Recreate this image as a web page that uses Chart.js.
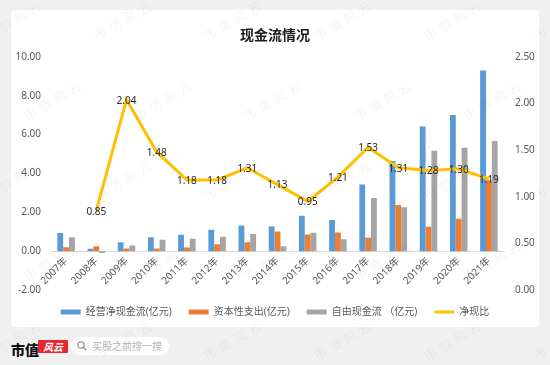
<!DOCTYPE html>
<html>
<head>
<meta charset="utf-8">
<script src="https://cdn.jsdelivr.net/npm/chart.js@4/dist/chart.umd.min.js"></script>
<style>
  html, body { margin: 0; padding: 0; }
  body {
    width: 550px; height: 365px; position: relative; overflow: hidden;
    background: #f0f0f0;
    font-family: "Noto Sans", "Noto Sans CJK SC", sans-serif;
  }
  #panel {
    position: absolute; left: 11px; top: 10px; width: 528px; height: 317px;
    background: #fff; border-radius: 4px;
  }
  #panel canvas { position: absolute; left: 0; top: 0; }
  .brand {
    position: absolute; left: 11px; top: 339px; line-height: 15px;
    font: 900 14px "Noto Sans CJK SC", sans-serif; color: #111;
  }
  .brand-red {
    position: absolute; left: 38px; top: 340px; width: 30px; height: 13px;
    background: #e8242c; color: #fff; font: italic 700 10px "Noto Sans CJK SC", sans-serif;
    line-height: 13px; text-align: center; border-radius: 1px;
  }
  .search {
    position: absolute; left: 71px; top: 337px; width: 98px; height: 18px;
    background: #fff; border-radius: 9px;
  }
  .search svg { position: absolute; left: 6px; top: 4px; }
  .search span {
    position: absolute; left: 21px; top: 2px;
    font: 10px "Noto Sans CJK SC", sans-serif; color: #b4b4b4; line-height: 14px;
  }
  #wm { position: absolute; left: 0; top: 0; width: 550px; height: 365px; pointer-events: none; }
  #wm span {
    position: absolute; font: 13px "Noto Sans CJK SC", sans-serif; color: rgba(0,0,0,0.045);
    transform: rotate(-30deg); letter-spacing: 4px; white-space: nowrap;
  }
</style>
</head>
<body>
<div id="panel"><canvas id="c" width="528" height="317"></canvas></div>
<div class="brand">市值</div>
<div class="brand-red">风云</div>
<div class="search">
  <svg width="10" height="10" viewBox="0 0 10 10"><circle cx="4" cy="4" r="3.2" fill="none" stroke="#999" stroke-width="1.3"/><line x1="6.4" y1="6.4" x2="9.3" y2="9.3" stroke="#999" stroke-width="1.4"/></svg>
  <span>买股之前搜一搜</span>
</div>
<div id="wm"></div>
<script>
const years = ['2007年','2008年','2009年','2010年','2011年','2012年','2013年','2014年','2015年','2016年','2017年','2018年','2019年','2020年','2021年'];
const operatingCF = [0.93, 0.12, 0.46, 0.71, 0.84, 1.10, 1.32, 1.27, 1.82, 1.60, 3.43, 4.64, 6.41, 7.00, 9.30];
const capex       = [0.20, 0.25, 0.14, 0.14, 0.19, 0.35, 0.46, 1.01, 0.86, 0.96, 0.69, 2.38, 1.25, 1.67, 3.65];
const freeCF      = [0.71, -0.10, 0.29, 0.59, 0.64, 0.74, 0.88, 0.25, 0.95, 0.61, 2.73, 2.26, 5.16, 5.32, 5.67];
const cashRatio   = [null, 0.85, 2.04, 1.48, 1.18, 1.18, 1.31, 1.13, 0.95, 1.21, 1.53, 1.31, 1.28, 1.30, 1.19];

const leftTicks = { min: -2, max: 10, step: 2 };
const rightTicks = { min: 0, max: 2.5, step: 0.5 };

const FONT = '"Noto Sans", "Noto Sans CJK SC", sans-serif';
const textGray = '#595959';

// faint site watermark
const wm = document.getElementById('wm');
for (let r = 0; r < 5; r++) {
  for (let c = 0; c < 6; c++) {
    const s = document.createElement('span');
    s.textContent = '市值风云';
    s.style.left = (c * 110 + (r % 2) * 40 - 20) + 'px';
    s.style.top = (r * 80 + 10) + 'px';
    wm.appendChild(s);
  }
}

const valueLabels = {
  id: 'valueLabels',
  afterDatasetsDraw(chart) {
    const meta = chart.getDatasetMeta(3);
    const ctx = chart.ctx;
    ctx.save();
    ctx.font = '10px ' + FONT;
    ctx.fillStyle = '#262626';
    ctx.textAlign = 'center';
    ctx.textBaseline = 'middle';
    meta.data.forEach((pt, i) => {
      const v = cashRatio[i];
      if (v == null) return;
      ctx.fillText(v.toFixed(2), pt.x, pt.y + 1);
    });
    ctx.restore();
  }
};

new Chart(document.getElementById('c'), {
  data: {
    labels: years,
    datasets: [
      { type: 'bar', label: '经营净现金流(亿元)', data: operatingCF, backgroundColor: '#5b9bd5', borderWidth: 0, pointStyle: 'rect', order: 1 },
      { type: 'bar', label: '资本性支出(亿元)', data: capex, backgroundColor: '#ed7d31', borderWidth: 0, pointStyle: 'rect', order: 1 },
      { type: 'bar', label: '自由现金流 （亿元)', data: freeCF, backgroundColor: '#a5a5a5', borderWidth: 0, pointStyle: 'rect', order: 1 },
      { type: 'line', label: '净现比', data: cashRatio, yAxisID: 'y1', borderColor: '#ffc000', backgroundColor: '#ffc000',
        borderWidth: 3, pointRadius: 0, tension: 0, pointStyle: 'line', order: 0 }
    ]
  },
  options: {
    responsive: false,
    animation: false,
    layout: { padding: { left: 0, right: 0, top: 0, bottom: 0 } },
    datasets: { bar: { categoryPercentage: 0.58, barPercentage: 1.0 } },
    plugins: {
      title: {
        display: true, text: '现金流情况', color: '#1a1a1a',
        font: { family: '"Noto Sans CJK SC", sans-serif', size: 14, weight: 'bold' },
        padding: { top: 16, bottom: 14 }
      },
      legend: {
        position: 'bottom',
        labels: {
          usePointStyle: true, pointStyleWidth: 20, boxHeight: 5, padding: 17,
          color: textGray, font: { family: FONT, size: 10 },
          sort: (a, b) => a.datasetIndex - b.datasetIndex
        }
      },
      tooltip: { enabled: false }
    },
    scales: {
      x: {
        position: { y: 0 },
        grid: { display: false, drawTicks: false },
        border: { color: '#d9d9d9', width: 1 },
        ticks: { color: textGray, font: { family: FONT, size: 10 }, minRotation: 45, maxRotation: 45, padding: 4, autoSkip: false }
      },
      y: {
        position: 'left',
        min: leftTicks.min, max: leftTicks.max,
        grid: { display: false, drawTicks: false },
        border: { display: false },
        ticks: { stepSize: leftTicks.step, color: textGray, font: { family: FONT, size: 10 }, padding: 10, callback: v => v.toFixed(2) },
        afterFit(s) { s.width = 40; }
      },
      y1: {
        position: 'right',
        min: rightTicks.min, max: rightTicks.max,
        grid: { display: false, drawTicks: false },
        border: { display: false },
        ticks: { stepSize: rightTicks.step, color: textGray, font: { family: FONT, size: 10 }, padding: 11, callback: v => v.toFixed(2) },
        afterFit(s) { s.width = 35; }
      }
    }
  },
  plugins: [valueLabels]
});
</script>
</body>
</html>
